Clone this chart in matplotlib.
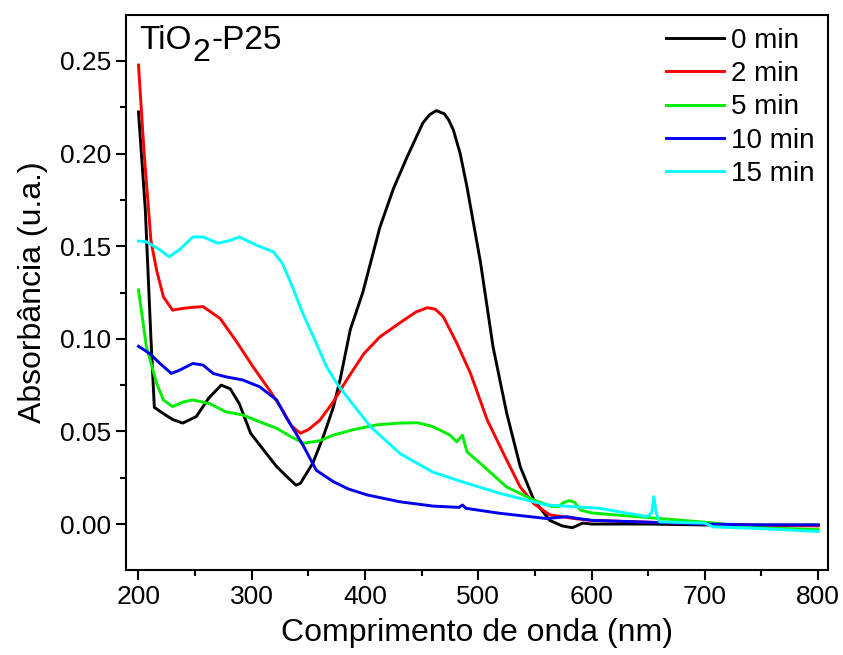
import numpy as np
import matplotlib.pyplot as plt
from matplotlib.ticker import MultipleLocator

plt.rcParams['font.family'] = ['Liberation Sans', 'DejaVu Sans']

# curves (wavelength in nm, absorbance)
x_0 = [200, 206, 211, 214, 221, 230, 239, 251, 262, 273, 281, 289, 299, 313, 322, 331, 339,
       343, 354, 363, 372, 378, 387, 398, 413, 425, 437, 451, 457, 463, 470, 474, 478, 484,
       490, 502, 513, 525, 537, 549, 563, 574, 583, 592, 600, 650, 700, 750, 800]
y_0 = [0.2225, 0.170, 0.100, 0.063, 0.060, 0.0565, 0.0545, 0.058, 0.068, 0.075, 0.073, 0.065,
       0.049, 0.038, 0.031, 0.0256, 0.021, 0.022, 0.033, 0.047, 0.063, 0.078, 0.105, 0.125,
       0.160, 0.181, 0.198, 0.2165, 0.221, 0.2232, 0.2215, 0.218, 0.2127, 0.200, 0.182, 0.141,
       0.0957, 0.060, 0.031, 0.013, 0.002, -0.001, -0.002, 0.0005, 0.000, 0.000, -0.0005,
       -0.0005, -0.0005]

x_2 = [200, 205, 211, 216, 222, 230, 240, 248, 257, 272, 286, 301, 316, 327, 335, 343, 350,
       360, 372, 384, 399, 413, 434, 445, 455, 462, 469, 481, 493, 508, 525, 537, 549, 563,
       584, 600, 650, 700, 750, 800]
y_2 = [0.2478, 0.200, 0.153, 0.137, 0.1227, 0.1155, 0.1165, 0.117, 0.1174, 0.111, 0.099, 0.085,
       0.072, 0.0616, 0.053, 0.049, 0.051, 0.056, 0.066, 0.078, 0.092, 0.101, 0.110, 0.1145,
       0.1168, 0.116, 0.112, 0.0977, 0.0815, 0.056, 0.0346, 0.020, 0.011, 0.005, 0.003, 0.002,
       0.001, 0.000, -0.0008, -0.001]

x_5 = [200, 207, 216, 222, 230, 240, 248, 263, 277, 292, 307, 322, 335, 346, 360, 372, 390,
       410, 430, 446, 458, 466, 475, 481, 486, 490, 505, 525, 549, 565, 571, 575, 580, 585,
       590, 600, 620, 660, 700, 750, 800]
y_5 = [0.1264, 0.0957, 0.076, 0.067, 0.0634, 0.066, 0.067, 0.065, 0.0606, 0.0589, 0.0552,
       0.0517, 0.047, 0.0436, 0.045, 0.048, 0.051, 0.0535, 0.0545, 0.0547, 0.053, 0.0508,
       0.048, 0.0444, 0.048, 0.039, 0.031, 0.020, 0.013, 0.0095, 0.0094, 0.0115, 0.0126,
       0.0118, 0.0076, 0.006, 0.005, 0.003, 0.001, -0.002, -0.003]

x_10 = [200, 210, 219, 229, 236, 248, 257, 266, 277, 292, 307, 322, 330, 338, 346, 357, 372,
        385, 402, 431, 460, 483, 486, 489, 519, 560, 570, 578, 586, 600, 650, 700, 750, 800]
y_10 = [0.096, 0.092, 0.0867, 0.0813, 0.083, 0.0867, 0.0858, 0.0813, 0.0795, 0.0778, 0.0741,
        0.067, 0.058, 0.050, 0.0417, 0.029, 0.0229, 0.019, 0.0157, 0.012, 0.0097, 0.0090,
        0.0103, 0.0085, 0.0058, 0.003, 0.0035, 0.004, 0.0032, 0.002, 0.001, 0.000, -0.0005,
        -0.0005]

x_15 = [200, 207, 219, 227, 236, 248, 257, 270, 280, 289, 304, 319, 327, 336, 345, 357, 366,
        375, 390, 405, 431, 460, 490, 519, 560, 607, 649, 653, 655, 657, 660, 700, 707, 750,
        800]
y_15 = [0.1528, 0.1524, 0.148, 0.1443, 0.148, 0.155, 0.155, 0.1516, 0.153, 0.155, 0.1506,
        0.147, 0.1408, 0.128, 0.1138, 0.0976, 0.085, 0.076, 0.064, 0.0525, 0.038, 0.028,
        0.022, 0.0166, 0.0103, 0.0085, 0.004, 0.006, 0.0148, 0.006, 0.0012, 0.0005, -0.0015,
        -0.0025, -0.004]

series = [(x_0, y_0, '0 min', 'black'),
          (x_2, y_2, '2 min', 'red'),
          (x_5, y_5, '5 min', '#00ee00'),
          (x_10, y_10, '10 min', '#0000ee'),
          (x_15, y_15, '15 min', 'cyan')]

fig = plt.figure(figsize=(8.43, 6.55), dpi=100)
ax = fig.add_axes([0.1495, 0.1298, 0.8331, 0.8472])

for x, y, lbl, c in series:
    ax.plot(x, y, color=c, lw=2.1, label=lbl)

ax.set_xlim(189, 809)
ax.set_ylim(-0.0248, 0.2748)
ax.xaxis.set_major_locator(MultipleLocator(100))
ax.xaxis.set_minor_locator(MultipleLocator(50))
ax.yaxis.set_major_locator(MultipleLocator(0.05))
ax.yaxis.set_minor_locator(MultipleLocator(0.025))
ax.yaxis.set_major_formatter(plt.FuncFormatter(lambda v, p: '%.2f' % v))

for s in ax.spines.values():
    s.set_linewidth(1.5)
ax.tick_params(which='major', direction='out', length=7, width=1.5, labelsize=19)
ax.tick_params(which='minor', direction='out', length=4, width=1.5)

ax.set_xlabel('Comprimento de onda (nm)', fontsize=23, labelpad=7)
ax.set_ylabel('Absorbância (u.a.)', fontsize=23, labelpad=9)

# sample name, subscript drawn at almost full size like the original
fig.canvas.draw()
r = fig.canvas.get_renderer()
t1 = fig.text(139 / 843, 1 - 49 / 655, 'TiO', fontsize=24, va='baseline')
w1 = t1.get_window_extent(r).x1
t2 = fig.text((w1 + 1) / 843, 1 - 61 / 655, '2', fontsize=23, va='baseline')
w2 = t2.get_window_extent(r).x1
fig.text((w2 + 1) / 843, 1 - 49 / 655, '-P25', fontsize=24, va='baseline')

ax.legend(loc='upper right', frameon=False, fontsize=20, handlelength=2.1,
          handletextpad=0.25, labelspacing=0.26, borderaxespad=0.1,
          bbox_to_anchor=(1.0, 1.002))

fig.savefig('out.png', dpi=100)
